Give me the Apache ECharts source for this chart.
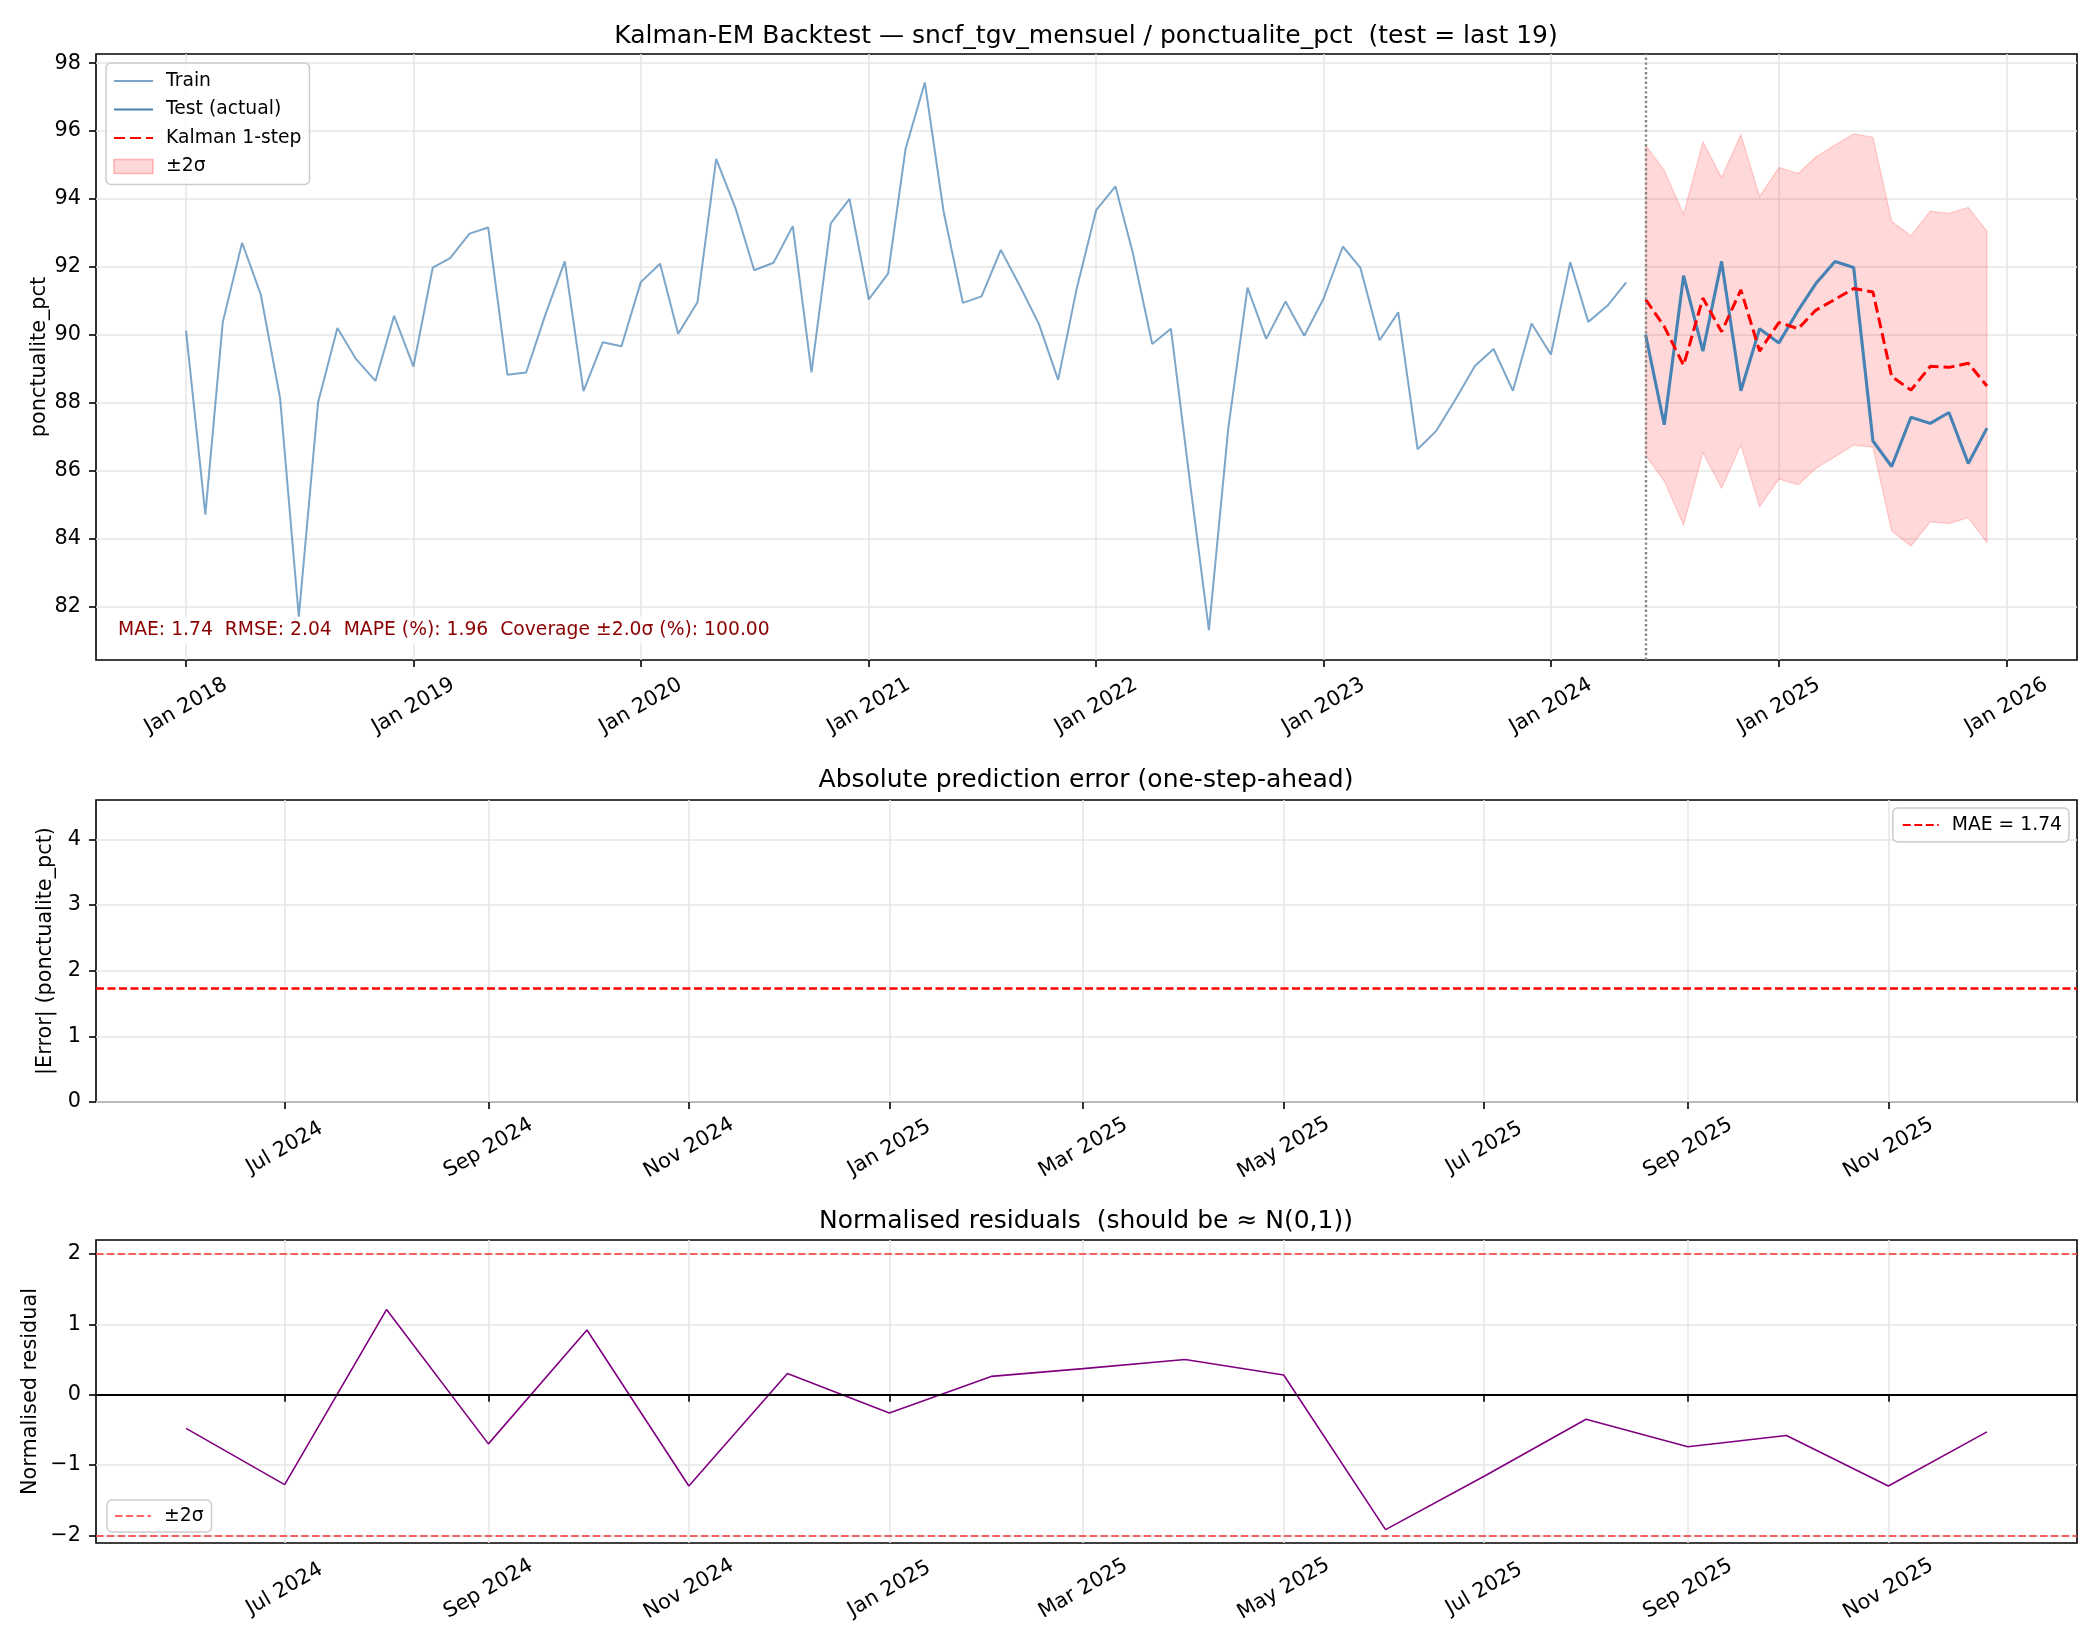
<!DOCTYPE html>
<html>
<head>
<meta charset="utf-8">
<title>Kalman-EM Backtest</title>
<script src="https://cdn.jsdelivr.net/npm/echarts@6/dist/echarts.min.js"></script>
<style>
  html, body { margin: 0; padding: 0; background: #fff; }
  #chart { width: 2100px; height: 1650px; }
</style>
</head>
<body>
<div id="chart"></div>
<script>
// monthly values
const trainStart = '2018-01';
const trainValues = [
  90.12, 84.70, 90.38, 92.71, 91.18, 88.13, 81.70, 88.01, 90.20, 89.28, 88.64, 90.56,
  89.06, 91.98, 92.26, 92.98, 93.16, 88.82, 88.89, 90.60, 92.16, 88.34, 89.78, 89.66,
  91.55, 92.09, 90.03, 90.96, 95.18, 93.73, 91.90, 92.12, 93.20, 88.89, 93.28, 94.00,
  91.04, 91.80, 95.47, 97.43, 93.64, 90.94, 91.13, 92.50, 91.42, 90.32, 88.67, 91.38,
  93.67, 94.37, 92.40, 89.73, 90.18, 85.60, 81.30, 87.23, 91.39, 89.88, 90.98, 89.97,
  91.06, 92.60, 91.98, 89.84, 90.66, 86.63, 87.17, 88.10, 89.08, 89.58, 88.35, 90.33,
  89.42, 92.14, 90.38, 90.86, 91.54
];
const testStart = '2024-06';
const testActual = [90.00, 87.35, 91.74, 89.52, 92.16, 88.35, 90.18, 89.76, 90.72, 91.50,
  92.16, 91.98, 86.87, 86.12, 87.57, 87.39, 87.71, 86.21, 87.25];
const kalmanPred = [91.04, 90.24, 89.10, 91.08, 90.09, 91.32, 89.52, 90.36, 90.18, 90.72,
  91.04, 91.36, 91.26, 88.77, 88.37, 89.07, 89.04, 89.16, 88.49];
const bandUpper = [95.59, 94.84, 93.55, 95.68, 94.63, 95.89, 94.07, 94.93, 94.75, 95.23,
  95.59, 95.92, 95.82, 93.34, 92.92, 93.64, 93.58, 93.75, 93.05];
const bandLower = [86.45, 85.69, 84.40, 86.53, 85.48, 86.75, 84.94, 85.75, 85.58, 86.06,
  86.41, 86.75, 86.69, 84.22, 83.78, 84.49, 84.44, 84.61, 83.88];
const residuals = [-0.48, -1.28, 1.21, -0.70, 0.92, -1.30, 0.30, -0.26, 0.26, 0.37,
  0.50, 0.28, -1.92, -1.16, -0.35, -0.74, -0.58, -1.30, -0.53];
const maeValue = 1.74;
const metricsText = 'MAE: 1.74  RMSE: 2.04  MAPE (%): 1.96  Coverage \u00b12.0\u03c3 (%): 100.00';

// tick labels
const topTicks = ['2018-01', '2019-01', '2020-01', '2021-01', '2022-01', '2023-01', '2024-01', '2025-01', '2026-01'];
const lowTicks = ['2024-07', '2024-09', '2024-11', '2025-01', '2025-03', '2025-05', '2025-07', '2025-09', '2025-11'];
const topYTicks = [82, 84, 86, 88, 90, 92, 94, 96, 98];
const errYTicks = [0, 1, 2, 3, 4];
const resYTicks = [-2, -1, 0, 1, 2];

const MONTHS = ['Jan', 'Feb', 'Mar', 'Apr', 'May', 'Jun', 'Jul', 'Aug', 'Sep', 'Oct', 'Nov', 'Dec'];
function ym(s) {
  const p = s.split('-');
  return Date.UTC(+p[0], +p[1] - 1, 1);
}
function months(start, n) {
  const p = start.split('-');
  const out = [];
  for (let i = 0; i < n; i++) out.push(Date.UTC(+p[0], +p[1] - 1 + i, 1));
  return out;
}
function pad(first, last) {
  const m = (last - first) * 0.05;
  return [first - m, last + m];
}
const fmtMonth = v => { const d = new Date(v); return MONTHS[d.getUTCMonth()] + ' ' + d.getUTCFullYear(); };
const fmtNum = v => String(v).replace('-', '\u2212');

const trainDates = months(trainStart, trainValues.length);
const testDates = months(testStart, testActual.length);
const topRange = pad(trainDates[0], testDates[testDates.length - 1]);
const lowRange = pad(testDates[0], testDates[testDates.length - 1]);

const FONT = 'DejaVu Sans';
const gridLine = { show: true, lineStyle: { color: '#e6e6e6', width: 1.5 } };
const tick = { show: true, length: 7, lineStyle: { color: '#000', width: 1.6 } };

// dates are plain millisecond numbers on a value axis
function xAxisFor(gridIndex, range, ticks) {
  const vals = ticks.map(ym);
  return {
    type: 'value', gridIndex, min: range[0], max: range[1],
    axisLine: { show: false },
    axisTick: Object.assign({ customValues: vals }, tick),
    axisLabel: {
      customValues: vals, formatter: fmtMonth, rotate: 30, align: 'center', verticalAlign: 'middle',
      margin: 46, fontSize: 20.8, color: '#000', fontFamily: FONT
    },
    splitLine: gridLine
  };
}
function yAxisFor(gridIndex, min, max, ticks, name, gap) {
  return {
    type: 'value', gridIndex, min, max,
    name, nameLocation: 'middle', nameGap: gap, nameMoveOverlap: false,
    nameTextStyle: { fontSize: 20.8, color: '#000', fontFamily: FONT },
    axisLine: { show: false },
    axisTick: Object.assign({ customValues: ticks }, tick),
    axisLabel: { customValues: ticks, formatter: fmtNum, margin: 15, fontSize: 20.8, color: '#000', fontFamily: FONT },
    splitLine: gridLine
  };
}
// itemStyle opacity 0 hides the round symbol ECharts puts on line legend icons
const legendBox = {
  orient: 'vertical', selectedMode: false,
  backgroundColor: 'rgba(255,255,255,0.8)', borderColor: '#cccccc', borderWidth: 1.5, borderRadius: 5,
  itemWidth: 39, itemHeight: 14, itemGap: 8.5,
  itemStyle: { opacity: 0 },
  textStyle: { fontSize: 18.75, color: '#000', fontFamily: FONT, lineHeight: 20, padding: [0, 0, 0, 8] }
};
const noMark = { symbol: 'none', silent: true, animation: false, label: { show: false } };

const chart = echarts.init(document.getElementById('chart'), null, { renderer: 'canvas' });
chart.setOption({
  animation: false,
  backgroundColor: '#fff',
  textStyle: { fontFamily: FONT },
  title: [
    { text: 'Kalman-EM Backtest \u2014 sncf_tgv_mensuel / ponctualite_pct  (test = last 19)', left: 1086, top: 24, textAlign: 'center', padding: 0,
      textStyle: { fontSize: 25, fontWeight: 'normal', color: '#000', fontFamily: FONT } },
    { text: 'Absolute prediction error (one-step-ahead)', left: 1086, top: 768, textAlign: 'center', padding: 0,
      textStyle: { fontSize: 25, fontWeight: 'normal', color: '#000', fontFamily: FONT } },
    { text: 'Normalised residuals  (should be \u2248 N(0,1))', left: 1086, top: 1209, textAlign: 'center', padding: 0,
      textStyle: { fontSize: 25, fontWeight: 'normal', color: '#000', fontFamily: FONT } }
  ],
  grid: [
    { left: 96, right: 23, top: 54, height: 606, show: true, borderColor: '#000', borderWidth: 1.6, backgroundColor: 'transparent' },
    { left: 96, right: 23, top: 800, height: 302, show: true, borderColor: '#000', borderWidth: 1.6, backgroundColor: 'transparent' },
    { left: 96, right: 23, top: 1240, height: 303, show: true, borderColor: '#000', borderWidth: 1.6, backgroundColor: 'transparent' }
  ],
  xAxis: [
    xAxisFor(0, topRange, topTicks),
    xAxisFor(1, lowRange, lowTicks),
    xAxisFor(2, lowRange, lowTicks)
  ],
  yAxis: [
    yAxisFor(0, 80.42, 98.27, topYTicks, 'ponctualite_pct', 46),
    yAxisFor(1, 0, 4.6, errYTicks, '|Error| (ponctualite_pct)', 40),
    yAxisFor(2, -2.11, 2.2, resYTicks, 'Normalised residual', 55)
  ],
  legend: [
    Object.assign({}, legendBox, {
      left: 106, top: 63, padding: [8, 8, 8, 7],
      data: [
        { name: 'Train' },
        { name: 'Test (actual)' },
        { name: 'Kalman 1-step' },
        { name: '\u00b12\u03c3', icon: 'rect', itemStyle: { opacity: 1, color: 'rgba(255,0,0,0.15)', borderColor: 'rgba(255,0,0,0.25)', borderWidth: 1.5 } }
      ]
    }),
    Object.assign({}, legendBox, {
      right: 31, top: 808, padding: [7, 7, 7, 9], itemWidth: 36,
      data: ['MAE = 1.74']
    }),
    Object.assign({}, legendBox, {
      left: 107, top: 1500, padding: [6, 8, 6, 7], itemWidth: 36,
      data: ['resid2sigma'], formatter: () => '\u00b12\u03c3'
    })
  ],
  graphic: [
    { type: 'text', left: 114, top: 617, z: 100,
      style: { text: metricsText, fill: '#8b0000', font: '18.75px "DejaVu Sans"', backgroundColor: 'rgba(255,255,255,0.8)', padding: [4, 4, 4, 4] } }
  ],
  series: [
    // ±2σ band as one polygon: upper edge forward, lower edge back
    { name: '\u00b12\u03c3', type: 'custom', xAxisIndex: 0, yAxisIndex: 0, z: 1,
      data: testDates.map((t, i) => [t, bandLower[i], bandUpper[i]]),
      itemStyle: { color: 'rgba(255,0,0,0.15)' },
      renderItem: (params, api) => {
        if (params.dataIndex !== 0) return;
        const pts = [];
        for (let i = 0; i < testDates.length; i++) pts.push(api.coord([testDates[i], bandUpper[i]]));
        for (let i = testDates.length - 1; i >= 0; i--) pts.push(api.coord([testDates[i], bandLower[i]]));
        return { type: 'polygon', shape: { points: pts },
          style: { fill: 'rgba(255,0,0,0.15)', stroke: 'rgba(255,0,0,0.18)', lineWidth: 1.2 } };
      } },
    { name: 'Train', type: 'line', xAxisIndex: 0, yAxisIndex: 0, symbol: 'none',
      data: trainDates.map((t, i) => [t, trainValues[i]]),
      lineStyle: { color: 'rgba(70,130,180,0.7)', width: 2 }, itemStyle: { color: 'rgba(70,130,180,0.7)' } },
    { name: 'Test (actual)', type: 'line', xAxisIndex: 0, yAxisIndex: 0, symbol: 'none',
      data: testDates.map((t, i) => [t, testActual[i]]),
      lineStyle: { color: '#4682b4', width: 3.1 }, itemStyle: { color: '#4682b4' },
      markLine: Object.assign({}, noMark, {
        data: [{ xAxis: testDates[0] }],
        lineStyle: { color: '#888888', type: [2.4, 2.4], width: 2.4 }
      }) },
    { name: 'Kalman 1-step', type: 'line', xAxisIndex: 0, yAxisIndex: 0, symbol: 'none', z: 4,
      data: testDates.map((t, i) => [t, kalmanPred[i]]),
      lineStyle: { color: '#ff0000', width: 3, type: [11, 5] }, itemStyle: { color: '#ff0000' } },

    { name: 'MAE = 1.74', type: 'line', xAxisIndex: 1, yAxisIndex: 1, symbol: 'none', data: [],
      lineStyle: { color: '#ff0000', width: 3, type: [8, 3.5] }, itemStyle: { color: '#ff0000' },
      markLine: Object.assign({}, noMark, {
        data: [{ yAxis: maeValue }],
        lineStyle: { color: '#ff0000', width: 2.6, type: [8, 3.5] }
      }) },

    { name: 'Residual', type: 'line', xAxisIndex: 2, yAxisIndex: 2, symbol: 'none',
      data: testDates.map((t, i) => [t, residuals[i]]),
      lineStyle: { color: '#800080', width: 1.6 }, itemStyle: { color: '#800080' },
      markLine: Object.assign({}, noMark, {
        data: [{ yAxis: 0 }],
        lineStyle: { color: '#000', width: 1.8, type: 'solid' }
      }) },
    { name: 'resid2sigma', type: 'line', xAxisIndex: 2, yAxisIndex: 2, symbol: 'none', data: [],
      lineStyle: { color: 'rgba(255,0,0,0.6)', width: 2, type: [7.5, 3.3] }, itemStyle: { color: 'rgba(255,0,0,0.6)' },
      markLine: Object.assign({}, noMark, {
        data: [{ yAxis: 2 }, { yAxis: -2 }],
        lineStyle: { color: 'rgba(255,0,0,0.6)', width: 2, type: [7.5, 3.3] }
      }) }
  ]
});
</script>
</body>
</html>
